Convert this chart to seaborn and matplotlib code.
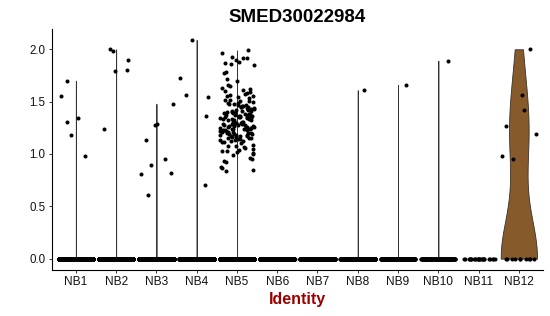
import numpy as np
import pandas as pd
import matplotlib
matplotlib.use("Agg")
import matplotlib.pyplot as plt
import seaborn as sns

# ---------------- data ----------------
categories = ["NB1", "NB2", "NB3", "NB4", "NB5", "NB6",
              "NB7", "NB8", "NB9", "NB10", "NB11", "NB12"]
zero_counts = [1500, 1500, 1500, 1500, 1500, 800, 800, 800, 250, 120, 25, 10]

nb1 = [1.31, 1.34, 1.55, 1.18, 1.70, 0.98]
nb2 = [1.90, 1.98, 1.79, 1.24, 2.00, 1.80]
nb3 = [0.89, 0.82, 1.28, 0.81, 1.48, 0.95, 1.29, 1.13, 0.61]
nb4 = [1.54, 0.70, 1.73, 2.09, 1.56, 1.36]
nb5 = [0.84, 0.85, 0.87, 0.88, 0.92, 0.93, 0.95, 0.96, 0.99, 1.00,
       1.02, 1.03, 1.03, 1.05, 1.06, 1.07, 1.08, 1.09, 1.10, 1.04, 1.08, 1.01,
       1.11, 1.12, 1.13, 1.14, 1.15, 1.15, 1.16, 1.17, 1.17, 1.18, 1.18, 1.19,
       1.19, 1.12, 1.14, 1.16, 1.13, 1.18, 1.11, 1.15, 1.19, 1.17,
       1.20, 1.21, 1.21, 1.22, 1.22, 1.23, 1.23, 1.24, 1.24, 1.25, 1.25, 1.26,
       1.26, 1.27, 1.27, 1.28, 1.28, 1.29, 1.29, 1.20, 1.22, 1.24, 1.26, 1.28,
       1.21, 1.23, 1.25, 1.27, 1.29, 1.20, 1.24, 1.26,
       1.30, 1.30, 1.31, 1.31, 1.32, 1.32, 1.33, 1.33, 1.34, 1.34, 1.35, 1.35,
       1.36, 1.36, 1.37, 1.37, 1.38, 1.38, 1.39, 1.39, 1.30, 1.32, 1.34, 1.36,
       1.38, 1.31, 1.33, 1.35, 1.37, 1.39, 1.30, 1.34, 1.35,
       1.40, 1.41, 1.41, 1.42, 1.43, 1.43, 1.44, 1.45, 1.45, 1.46, 1.47, 1.47,
       1.48, 1.48, 1.49, 1.40, 1.42, 1.44, 1.46, 1.49, 1.41, 1.43, 1.45,
       1.50, 1.51, 1.52, 1.52, 1.53, 1.54, 1.55, 1.56, 1.57, 1.58, 1.59, 1.51, 1.55,
       1.60, 1.61, 1.62, 1.63, 1.65, 1.66, 1.70, 1.72, 1.77, 1.78,
       1.85, 1.86, 1.87, 1.88, 1.90, 1.92, 1.92, 1.93, 1.96, 1.99]
nb6 = []
nb7 = []
nb8 = [1.61]
nb9 = [1.66]
nb10 = [1.89]
nb11 = []
nb12 = [2.00, 1.56, 1.42, 1.27, 1.19, 0.98, 0.95]

nonzero_values = [nb1, nb2, nb3, nb4, nb5, nb6, nb7, nb8, nb9, nb10, nb11, nb12]

rows = []
for cat, nz, vals in zip(categories, zero_counts, nonzero_values):
    rows += [(cat, 0.0)] * nz + [(cat, v) for v in vals]
df = pd.DataFrame(rows, columns=["ident", "expr"])

palette = {c: "#2b2b2b" for c in categories}
palette["NB12"] = "#875A2B"

# ---------------- plot ----------------
sns.set_theme(style="ticks")
plt.rcParams["font.family"] = ["Liberation Sans", "DejaVu Sans"]
plt.rcParams["text.color"] = "black"

fig = plt.figure(figsize=(5.5, 3.16), dpi=100)
ax = fig.add_axes([51.7 / 550, 1 - 269.6 / 316, (543 - 51.7) / 550, (269.6 - 28.9) / 316])

has_signal = df.groupby("ident")["expr"].transform("max") > 0
sparse = df[has_signal & (df["ident"] != "NB12")]
dense = df[df["ident"] == "NB12"]

common = dict(x="ident", y="expr", hue="ident", order=categories,
              hue_order=categories, palette=palette, density_norm="width",
              cut=0, inner=None, width=0.9, saturation=1, linewidth=0.6,
              linecolor="#333333", legend=False, ax=ax)
sns.violinplot(data=sparse, bw_method=0.012, gridsize=6000, **common)
sns.violinplot(data=dense, gridsize=400, **common)

np.random.seed(3)
sns.stripplot(data=df, x="ident", y="expr", order=categories,
              color="black", size=2.9, jitter=0.43, linewidth=0, ax=ax)

ax.set_xlim(-0.6, 11.6)
ax.set_ylim(-0.1045, 2.1945)
ax.set_yticks([0, 0.5, 1.0, 1.5, 2.0])
ax.set_yticklabels(["0.0", "0.5", "1.0", "1.5", "2.0"])
ax.tick_params(axis="both", length=2.5, width=0.7, color="#333333",
               labelcolor="#111111", pad=2)
ax.tick_params(axis="x", labelsize=8.6)
ax.tick_params(axis="y", labelsize=8.3)
for s in ["top", "right"]:
    ax.spines[s].set_visible(False)
for s in ["left", "bottom"]:
    ax.spines[s].set_linewidth(0.8)
    ax.spines[s].set_color("black")

ax.set_title("SMED30022984", fontsize=13.5, fontweight="bold", pad=5, color="black")
ax.set_xlabel("Identity", fontsize=11.5, fontweight="bold", color="#9B0000", labelpad=3)
ax.set_ylabel("")

fig.savefig("out.png", dpi=100)
